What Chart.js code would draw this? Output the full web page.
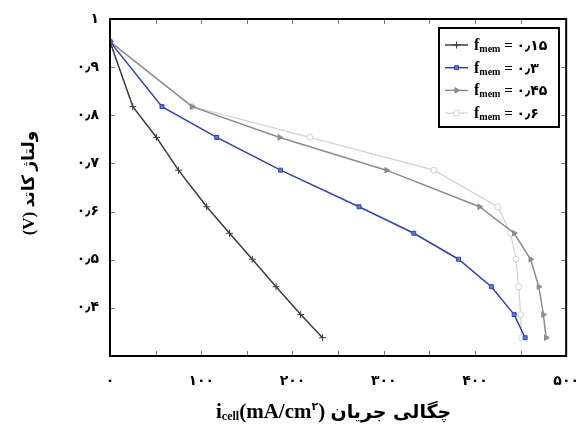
<!DOCTYPE html>
<html lang="fa">
<head>
    <meta charset="UTF-8">
    <title>Cathode voltage vs current density</title>
    <script src="https://cdn.jsdelivr.net/npm/chart.js"></script>
    <style>
        body { margin: 0; background: #fff; }
    </style>
</head>
<body>
    <canvas id="polChart" width="588" height="430"></canvas>

    <script>
        // Data
        const voltage = [0.953, 0.818, 0.754, 0.686, 0.610, 0.555, 0.501, 0.444, 0.386, 0.338];
        const current015 = [0, 25, 51, 75, 106, 131, 156, 182, 209, 233];
        const current030 = [0, 57, 117, 187, 273, 333, 382, 418, 443, 455];
        const current045 = [0, 90, 186, 303, 405, 443, 461, 470, 475, 478];
        const current060 = [0, 90, 219, 355, 425, 439, 445, 448, 450, 451];
        const fmemLabels = ['۰٫۱۵', '۰٫۳', '۰٫۴۵', '۰٫۶'];
        const xTicks = [0, 100, 200, 300, 400, 500];
        const yTicks = [0.4, 0.5, 0.6, 0.7, 0.8, 0.9, 1.0];

        const faDigits = '۰۱۲۳۴۵۶۷۸۹';
        function toFa(str) {
            return String(str).replace(/\d/g, d => faDigits[d]).replace('.', '٫');
        }

        function points(currents) {
            return currents.map((c, i) => ({ x: c, y: voltage[i] }));
        }

        const series = [
            { cur: current015, color: '#3c3c3c', fill: '#3c3c3c', style: 'cross', rot: 0, r: 3.5, w: 1.5 },
            { cur: current030, color: '#2f44a3', fill: '#6b7ccc', style: 'rect', rot: 0, r: 2.8, w: 1.5 },
            { cur: current045, color: '#8c8c8c', fill: '#8c8c8c', style: 'triangle', rot: 90, r: 3.2, w: 1.5 },
            { cur: current060, color: '#d2d2d2', fill: '#ffffff', style: 'circle', rot: 0, r: 3, w: 1.2 }
        ];

        // frame, inner ticks, legend and axis titles
        const decorations = {
            id: 'decorations',
            afterDraw(chart) {
                const ctx = chart.ctx;
                const a = chart.chartArea;
                const x = chart.scales.x;
                const y = chart.scales.y;
                ctx.save();

                // inward tick marks on all four sides
                ctx.strokeStyle = '#777';
                ctx.lineWidth = 1;
                ctx.beginPath();
                x.ticks.forEach(t => {
                    const px = Math.round(x.getPixelForValue(t.value)) + 0.5;
                    ctx.moveTo(px, a.bottom); ctx.lineTo(px, a.bottom - 5);
                    ctx.moveTo(px, a.top); ctx.lineTo(px, a.top + 5);
                });
                y.ticks.forEach(t => {
                    const py = Math.round(y.getPixelForValue(t.value)) + 0.5;
                    ctx.moveTo(a.left, py); ctx.lineTo(a.left + 5, py);
                    ctx.moveTo(a.right, py); ctx.lineTo(a.right - 5, py);
                });
                ctx.stroke();

                ctx.strokeStyle = '#000';
                ctx.lineWidth = 2;
                ctx.strokeRect(a.left, a.top, a.right - a.left, a.bottom - a.top);

                // legend box
                const lx = 439, ly = 28, lw = 120, lh = 99;
                ctx.fillStyle = '#fff';
                ctx.fillRect(lx, ly, lw, lh);
                ctx.strokeRect(lx, ly, lw, lh);

                series.forEach((s, i) => {
                    const rowY = 45 + i * 22.7;
                    ctx.strokeStyle = s.color;
                    ctx.lineWidth = s.w;
                    ctx.beginPath();
                    ctx.moveTo(445, rowY); ctx.lineTo(468, rowY);
                    ctx.stroke();
                    ctx.fillStyle = s.fill;
                    ctx.lineWidth = 1;
                    Chart.helpers.drawPoint(ctx, { pointStyle: s.style, rotation: s.rot, radius: s.r, borderWidth: 1 }, 456.5, rowY);

                    ctx.fillStyle = '#000';
                    ctx.textAlign = 'left';
                    ctx.textBaseline = 'alphabetic';
                    let tx = 474;
                    const by = rowY + 5;
                    ctx.font = 'bold 16px "Liberation Serif"';
                    ctx.fillText('f', tx, by);
                    tx += ctx.measureText('f').width;
                    ctx.font = 'bold 10px "Liberation Serif"';
                    ctx.fillText('mem', tx, by + 2);
                    tx += ctx.measureText('mem').width;
                    ctx.font = 'bold 15px "Liberation Serif"';
                    ctx.fillText(' = ', tx, by);
                    tx += ctx.measureText(' = ').width;
                    ctx.font = 'bold 14px "DejaVu Sans"';
                    ctx.fillText(fmemLabels[i], tx, by);
                });

                // x axis title: i_cell(mA/cm²) چگالی جریان
                ctx.fillStyle = '#000';
                ctx.textAlign = 'left';
                let cx = 216;
                const base = 418;
                ctx.font = 'bold 21px "Liberation Serif"';
                ctx.fillText('i', cx, base);
                cx += ctx.measureText('i').width;
                ctx.font = 'bold 12px "Liberation Serif"';
                ctx.fillText('cell', cx, base + 2);
                cx += ctx.measureText('cell').width;
                ctx.font = 'bold 21px "Liberation Serif"';
                ctx.fillText('(mA/cm', cx, base);
                cx += ctx.measureText('(mA/cm').width;
                ctx.font = 'bold 11px "DejaVu Sans"';
                ctx.fillText('۲', cx, base - 8);
                cx += ctx.measureText('۲').width;
                ctx.font = 'bold 21px "Liberation Serif"';
                ctx.fillText(') ', cx, base);
                cx += ctx.measureText(') ').width;
                ctx.font = 'bold 19px "DejaVu Sans"';
                ctx.direction = 'rtl';
                ctx.textAlign = 'left';
                ctx.fillText('چگالی جریان', cx, base);

                // y axis title
                ctx.translate(28, 183);
                ctx.rotate(-Math.PI / 2);
                ctx.textAlign = 'center';
                ctx.font = 'bold 17px "Liberation Serif", "DejaVu Sans"';
                ctx.fillText('ولتاژ کاتد (V)', 0, 6);

                ctx.restore();
            }
        };

        const tickFont = { family: '"DejaVu Sans"', size: 14, weight: 'bold' };

        new Chart(document.getElementById('polChart'), {
            type: 'line',
            data: {
                datasets: series.map((s, i) => ({
                    label: 'fmem = ' + fmemLabels[i],
                    data: points(s.cur),
                    borderColor: s.color,
                    backgroundColor: s.fill,
                    borderWidth: s.w,
                    pointStyle: s.style,
                    pointRotation: s.rot,
                    pointRadius: s.r,
                    pointBorderWidth: 1,
                    pointBorderColor: s.color,
                    pointBackgroundColor: s.fill,
                    tension: 0,
                    order: [2, 1, 3, 4][i]
                }))
            },
            options: {
                responsive: false,
                animation: false,
                events: [],
                layout: { padding: { top: 19, right: 17, left: 0, bottom: 0 } },
                plugins: {
                    legend: { display: false },
                    tooltip: { enabled: false }
                },
                scales: {
                    x: {
                        type: 'linear',
                        min: 0,
                        max: 500,
                        grid: { display: false },
                        border: { display: false },
                        ticks: {
                            stepSize: 50,
                            padding: 9,
                            color: '#000',
                            font: tickFont,
                            maxRotation: 0,
                            autoSkip: false,
                            callback: v => xTicks.includes(v) ? toFa(v) : ''
                        },
                        afterFit: scale => { scale.height = 74; }
                    },
                    y: {
                        min: 0.3,
                        max: 1.0,
                        grid: { display: false },
                        border: { display: false },
                        ticks: {
                            stepSize: 0.1,
                            padding: 3,
                            color: '#000',
                            font: tickFont,
                            autoSkip: false,
                            callback: v => {
                                const r = Math.round(v * 10) / 10;
                                return yTicks.includes(r) ? toFa(r === 1 ? 1 : r) : '';
                            }
                        },
                        afterFit: scale => { scale.width = 110; }
                    }
                }
            },
            plugins: [decorations]
        });
    </script>
</body>
</html>
